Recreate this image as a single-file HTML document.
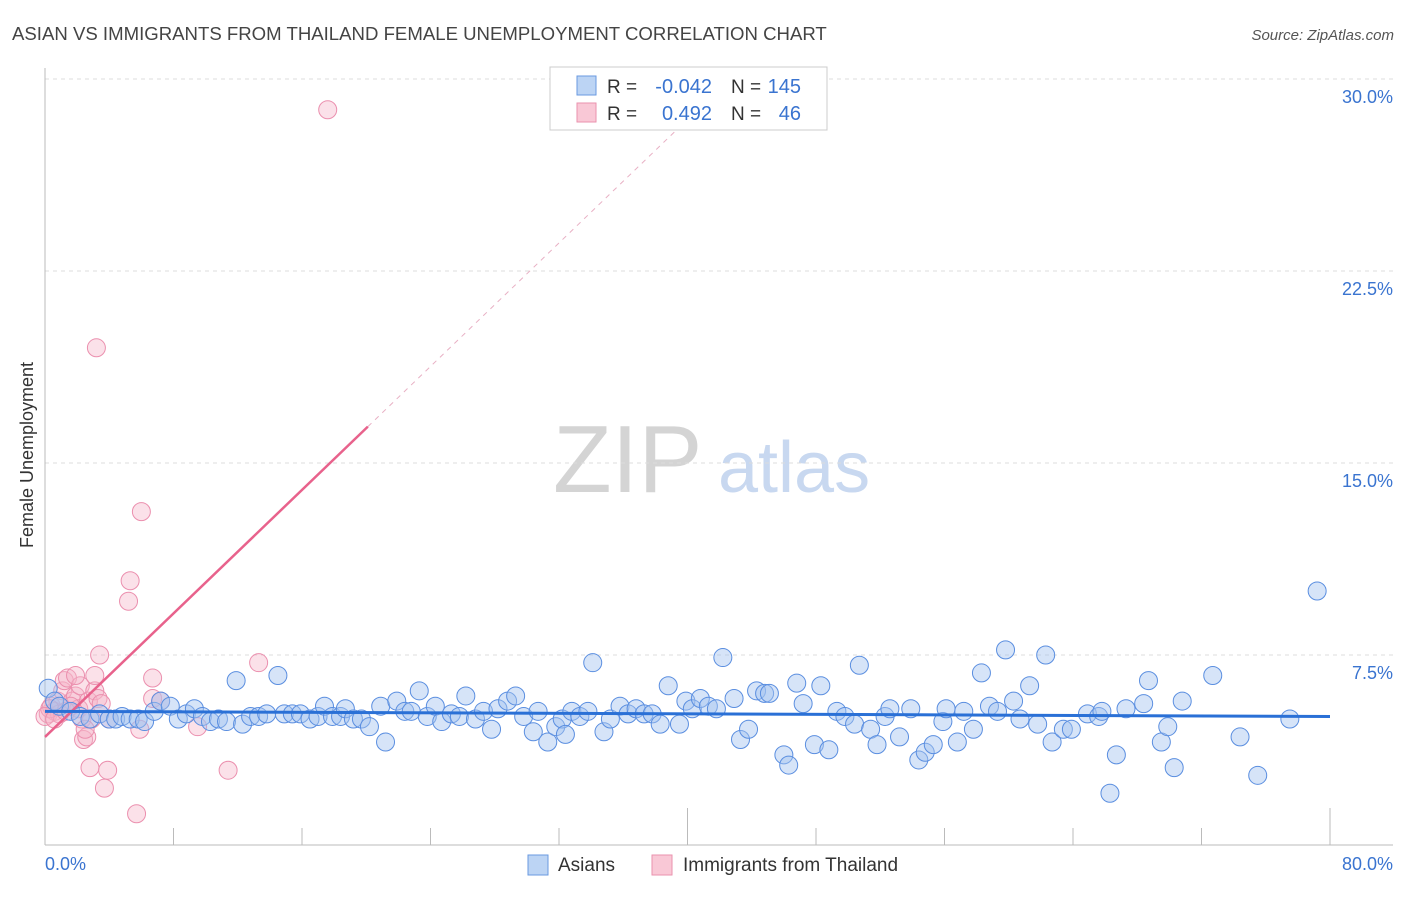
<!DOCTYPE html>
<html><head><meta charset="utf-8"><style>
body{margin:0;background:#fff;font-family:"Liberation Sans",sans-serif;}
svg text{font-family:"Liberation Sans",sans-serif;}
</style></head><body>
<svg id="chart" width="1406" height="892" xmlns="http://www.w3.org/2000/svg">
<text x="12" y="40" font-size="18.6" fill="#444">ASIAN VS IMMIGRANTS FROM THAILAND FEMALE UNEMPLOYMENT CORRELATION CHART</text>
<text x="1394" y="40" font-size="15" fill="#555" font-style="italic" text-anchor="end">Source: ZipAtlas.com</text>
<text x="33" y="455" font-size="18" fill="#333" text-anchor="middle" transform="rotate(-90 33 455)">Female Unemployment</text>
<g>
<text x="553" y="492" font-size="96" font-family="Liberation Serif" fill="#d4d4d4">ZIP</text>
<text x="718" y="492" font-size="72" fill="#c8d8f0">atlas</text>
</g>
<g id="grid"></g>
<g id="axes"></g>
<g id="pinkpts"></g>
<g id="bluepts"></g>
<g id="trends"></g>
<g>
<rect x="550" y="67" width="277" height="63" fill="#fff" stroke="#ccc"/>
<rect x="577" y="76" width="19" height="19" fill="#bcd4f4" stroke="#6a9ae0"/>
<rect x="577" y="103" width="19" height="19" fill="#f9c8d6" stroke="#ea92ae"/>
<text x="607" y="93" font-size="19" fill="#333">R =</text>
<text x="712" y="93" font-size="20" fill="#3a74d0" text-anchor="end">-0.042</text>
<text x="731" y="93" font-size="19" fill="#333">N =</text>
<text x="801" y="93" font-size="20" fill="#3a74d0" text-anchor="end">145</text>
<text x="607" y="120" font-size="19" fill="#333">R =</text>
<text x="712" y="120" font-size="20" fill="#3a74d0" text-anchor="end">0.492</text>
<text x="731" y="120" font-size="19" fill="#333">N =</text>
<text x="801" y="120" font-size="20" fill="#3a74d0" text-anchor="end">46</text>
</g>
<g>
<rect x="528" y="855" width="20" height="20" fill="#bcd4f4" stroke="#6a9ae0"/>
<text x="558" y="871" font-size="19" fill="#333">Asians</text>
<rect x="652" y="855" width="20" height="20" fill="#f9c8d6" stroke="#ea92ae"/>
<text x="683" y="871" font-size="19" fill="#333">Immigrants from Thailand</text>
</g>
</svg>
<script>
const yTicks=[7.5,15,22.5,30];
const yTickLabels=["7.5%","15.0%","22.5%","30.0%"];
const xTickLabels=["0.0%","80.0%"];
const asianX=[0.2,0.6,0.9,1.6,2.2,2.8,3.4,4.0,4.4,4.8,5.3,5.8,6.2,6.8,7.2,7.8,8.3,8.8,9.3,9.8,10.3,10.8,11.3,11.9,12.3,12.8,13.3,13.8,14.5,14.9,15.4,15.9,16.5,17.0,17.4,17.9,18.4,18.7,19.2,19.7,20.2,20.9,21.2,21.9,22.4,22.8,23.3,23.8,24.3,24.7,25.3,25.8,26.2,26.8,27.3,27.8,28.2,28.8,29.3,29.8,30.4,30.7,31.3,31.8,32.2,32.4,32.8,33.3,33.8,34.1,34.8,35.2,35.8,36.3,36.8,37.3,37.8,38.3,38.8,39.5,39.9,40.3,40.8,41.3,41.8,42.2,42.9,43.3,43.8,44.3,44.8,45.1,46.0,46.3,46.8,47.2,47.9,48.8,48.3,49.3,49.8,50.4,50.7,51.4,51.8,52.3,52.6,53.2,53.9,54.4,54.8,55.3,55.9,56.1,56.8,57.2,57.8,58.3,58.8,59.3,59.8,60.3,60.7,61.3,61.8,62.3,62.7,63.4,63.9,64.9,65.6,65.8,66.3,66.7,67.3,68.4,68.7,69.5,69.9,70.3,70.8,72.7,74.4,75.5,77.5,79.2];
const asianY=[6.2,5.7,5.5,5.3,5.1,5.0,5.2,5.0,5.0,5.1,5.0,5.0,4.9,5.3,5.7,5.5,5.0,5.2,5.4,5.1,4.9,5.0,4.9,6.5,4.8,5.1,5.1,5.2,6.7,5.2,5.2,5.2,5.0,5.1,5.5,5.1,5.1,5.4,5.0,5.0,4.7,5.5,4.1,5.7,5.3,5.3,6.1,5.1,5.5,4.9,5.2,5.1,5.9,5.0,5.3,4.6,5.4,5.7,5.9,5.1,4.5,5.3,4.1,4.7,5.0,4.4,5.3,5.1,5.3,7.2,4.5,5.0,5.5,5.2,5.4,5.2,5.2,4.8,6.3,4.8,5.7,5.4,5.8,5.5,5.4,7.4,5.8,4.2,4.6,6.1,6.0,6.0,3.6,3.2,6.4,5.6,4.0,3.8,6.3,5.3,5.1,4.8,7.1,4.6,4.0,5.1,5.4,4.3,5.4,3.4,3.7,4.0,4.9,5.4,4.1,5.3,4.6,6.8,5.5,5.3,7.7,5.7,5.0,6.3,4.8,7.5,4.1,4.6,4.6,5.2,5.1,5.3,2.1,3.6,5.4,5.6,6.5,4.1,4.7,3.1,5.7,6.7,4.3,2.8,5.0,10.0];
const thaiX=[0.2,0.4,0.6,0.8,1.1,1.2,1.4,1.7,1.9,2.1,2.2,2.3,2.4,2.6,2.7,2.8,2.9,3.1,3.2,3.3,3.4,3.5,3.7,3.9,4.0,5.3,5.2,5.9,6.0,6.7,6.7,7.2,9.5,11.4,5.7,13.3,17.6,3.1,1.9,0.9,0.3,0.0,0.6,1.3,1.6,2.5];
const thaiY=[5.2,5.5,5.3,5.7,6.1,6.5,6.6,5.7,5.9,5.4,6.3,5.0,4.2,4.3,5.7,3.1,5.0,6.1,19.5,5.8,7.5,5.6,2.3,3.0,5.0,10.4,9.6,4.6,13.1,6.6,5.8,5.7,4.7,3.0,1.3,7.2,28.8,6.7,6.7,5.2,5.4,5.1,5.0,5.3,5.5,4.6];
const asianTrend=[5.3,5.1];
const thaiTrend=[4.3,0.603];
const X0=45,X1=1330,Y0=847,PXPER=(847-79)/30;
const sx=v=>X0+v/80*(X1-X0), sy=v=>Y0-v*PXPER;
const NS="http://www.w3.org/2000/svg";
function mk(tag,attrs,parent){const e=document.createElementNS(NS,tag);for(const k in attrs)e.setAttribute(k,attrs[k]);parent.appendChild(e);return e;}
const grid=document.getElementById('grid'),axes=document.getElementById('axes');
yTicks.forEach((t,i)=>{
 const l=mk('line',{x1:45,x2:1393,y1:sy(t),y2:sy(t),stroke:'#ddd','stroke-dasharray':'4,4'},grid);
 
 
 const tx=mk('text',{x:1393,y:sy(t)+24,'font-size':18,fill:'#3a74d0','text-anchor':'end'},axes);
 tx.textContent=yTickLabels[i];
 
 
});
const la=mk('line',{x1:45,x2:45,y1:68,y2:845,stroke:'#bbb'},axes);


const lb=mk('line',{x1:45,x2:1393,y1:845,y2:845,stroke:'#bbb'},axes);


for(let k=1;k<=10;k++){const x=sx(k*8);const tall=(k==5||k==10);const tk=mk('line',{x1:x,x2:x,y1:tall?808:828,y2:845,stroke:'#bbb'},axes);
 
 }
[[0,'start',45],[1,'end',1393]].forEach(([i,a,x])=>{const t=mk('text',{x:x,y:870,'font-size':18,fill:'#3a74d0','text-anchor':a},axes);t.textContent=xTickLabels[i];
 
 });
const pp=document.getElementById('pinkpts');
thaiX.forEach((x,i)=>{const c=mk('circle',{cx:sx(x),cy:sy(thaiY[i]),r:9,fill:'rgba(246,180,200,0.4)',stroke:'#eb8fae','stroke-width':1},pp);
 
 });
const bp=document.getElementById('bluepts');
asianX.forEach((x,i)=>{const c=mk('circle',{cx:sx(x),cy:sy(asianY[i]),r:9,fill:'rgba(164,196,240,0.45)',stroke:'#5a8ee0','stroke-width':1},bp);
 
 });
const tr=document.getElementById('trends');
const f=x=>thaiTrend[0]+thaiTrend[1]*x;
const xs=20.1,xe=(30-thaiTrend[0])/thaiTrend[1];
const td=mk('line',{x1:sx(xs),y1:sy(f(xs)),x2:sx(xe),y2:sy(f(xe)),stroke:'#e8b0c4','stroke-dasharray':'5,5','stroke-width':1},tr);


const ts=mk('line',{x1:sx(0),y1:sy(f(0)),x2:sx(xs),y2:sy(f(xs)),stroke:'#e8628c','stroke-width':2.5},tr);


const ab=mk('line',{x1:sx(0),y1:sy(asianTrend[0]),x2:sx(80),y2:sy(asianTrend[1]),stroke:'#2a70d6','stroke-width':3},tr);


</script>
</body></html>
